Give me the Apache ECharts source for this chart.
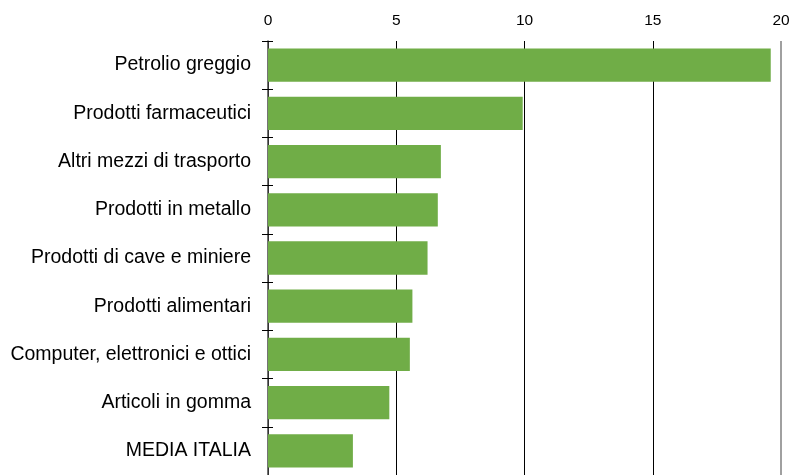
<!DOCTYPE html>
<html>
<head>
<meta charset="utf-8">
<script src="https://cdn.jsdelivr.net/npm/echarts@6/dist/echarts.min.js"></script>
<style>
  html, body { margin: 0; padding: 0; background: #fff; }
  #main { width: 794px; height: 475px; }
</style>
</head>
<body>
<div id="main"></div>
<script>
var categories = [
  'Petrolio greggio',
  'Prodotti farmaceutici',
  'Altri mezzi di trasporto',
  'Prodotti in metallo',
  'Prodotti di cave e miniere',
  'Prodotti alimentari',
  'Computer, elettronici e ottici',
  'Articoli in gomma',
  'MEDIA ITALIA'
];
var values = [19.6, 9.93, 6.74, 6.62, 6.22, 5.63, 5.53, 4.73, 3.31];
var xMin = 0, xMax = 20, xStep = 5;

var chart = echarts.init(document.getElementById('main'), null, { renderer: 'canvas' });

var option = {
  animation: false,
  textStyle: { fontFamily: 'Liberation Sans, Arial, sans-serif' },
  grid: { left: 268, right: 13, top: 41, bottom: -4, containLabel: false },
  xAxis: {
    type: 'value',
    position: 'top',
    min: xMin,
    max: xMax,
    interval: xStep,
    axisLine: { show: false },
    axisTick: { show: false },
    axisLabel: { color: '#000', fontSize: 15.5, margin: 12 },
    splitLine: { show: true, showMaxLine: false, lineStyle: { color: '#000', width: 1 } }
  },
  yAxis: [{
    type: 'category',
    data: categories,
    inverse: true,
    axisLine: { show: true, lineStyle: { color: '#444', width: 1.5 } },
    axisTick: { show: true, length: 6, lineStyle: { color: '#000' } },
    axisLabel: { color: '#000', fontSize: 19.5, margin: 17 }
  }, {
    type: 'category',
    data: categories,
    inverse: true,
    position: 'left',
    axisLine: { show: false },
    axisTick: { show: true, inside: true, length: 5, lineStyle: { color: '#000' } },
    axisLabel: { show: false }
  }],
  series: [{
    type: 'bar',
    data: values,
    barCategoryGap: '31%',
    itemStyle: { color: '#70AD47' },
    markLine: {
      silent: true,
      symbol: 'none',
      label: { show: false },
      lineStyle: { color: '#808080', width: 1.5, type: 'solid' },
      data: [{ xAxis: xMax }]
    }
  }]
};

chart.setOption(option);
</script>
</body>
</html>
